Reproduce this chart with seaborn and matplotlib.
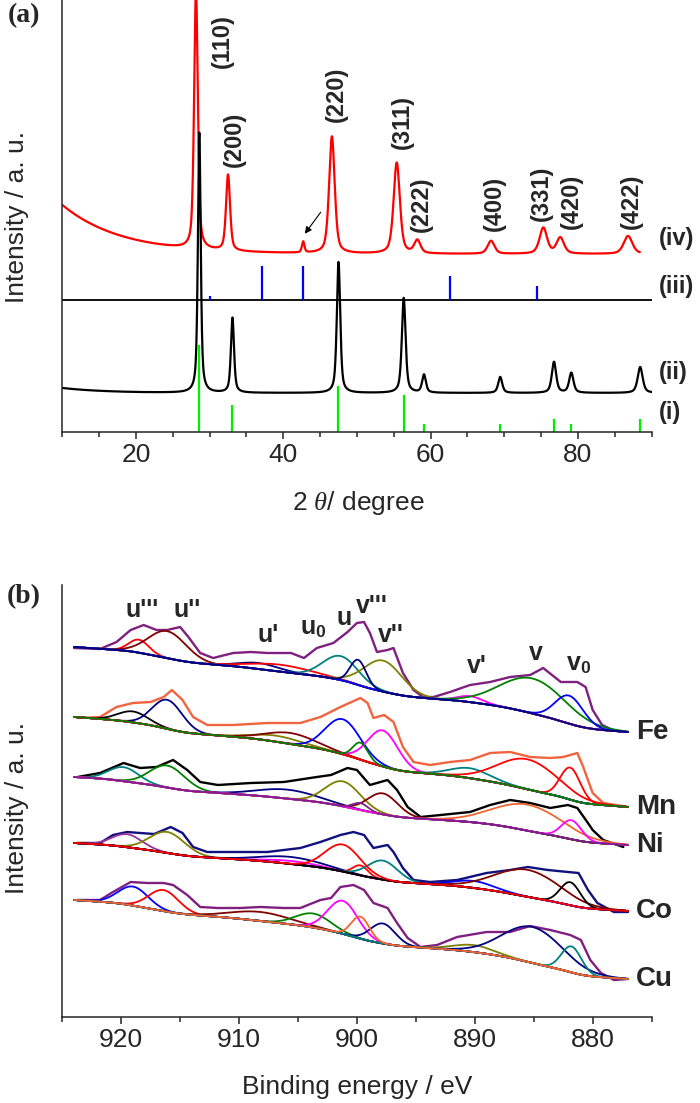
import numpy as np
import pandas as pd
import matplotlib
matplotlib.use("Agg")
import matplotlib.pyplot as plt
import seaborn as sns

sns.set_style("ticks")
plt.rcParams.update({
    'font.family': ['Liberation Sans', 'DejaVu Sans'],
    'mathtext.fontset': 'custom',
    'mathtext.rm': 'Liberation Sans',
    'mathtext.bf': 'Liberation Sans:bold',
    'mathtext.it': 'Liberation Serif:italic',
    'axes.linewidth': 1.1,
    'xtick.major.width': 1.1,
    'xtick.minor.width': 1.1,
})

# ---------------- (a) XRD ----------------
# reference sticks (i) and (iii)
ref_pos = [28.55, 33.08, 47.48, 56.34, 59.09, 69.42, 76.70, 79.07, 88.41]
ref_int = [87, 27, 46, 37, 8, 8, 13, 8, 13]
imp_pos = [30.0, 37.1, 42.7, 62.6, 74.5]
imp_int = [4, 34, 34, 24, 14]
imp_base = 132

# pattern (ii)
ii_pos = [28.6, 33.1, 47.5, 56.35, 59.1, 69.45, 76.75, 79.1, 88.45]
ii_amp = [260, 75, 131, 95, 18, 16, 31, 20, 26]
ii_fwhm = [0.45, 0.5, 0.55, 0.6, 0.6, 0.65, 0.7, 0.7, 0.8]
ii_base, ii_rise = 39, 5

# pattern (iv)
iv_pos = [28.15, 32.5, 42.7, 46.6, 55.4, 58.2, 68.2, 75.3, 77.6, 86.8]
iv_amp = [258, 76, 11, 117, 91, 13, 13, 26, 16, 18]
iv_fwhm = [0.6, 0.65, 0.4, 0.9, 1.0, 1.0, 1.1, 1.2, 1.2, 1.4]
iv_base, iv_rise = 178, 49

hkl_text = ["(110)", "(200)", "(220)", "(311)", "(222)", "(400)", "(331)", "(420)", "(422)"]
hkl_x = [31.75, 33.3, 47.25, 56.1, 58.7, 68.6, 75.0, 79.1, 87.3]
hkl_y = [391, 293, 338, 310, 228, 229, 239, 231, 231]

trace_names = ["(iv)", "(iii)", "(ii)", "(i)"]
trace_y = [194, 146, 60, 20]

# ---------------- (b) XPS Ce 3d ----------------
fe_be = [924.0, 921.8, 920.4, 919.2, 918.1, 917.0, 916.1, 915.0, 914.3, 913.3, 912.2, 910.5, 909.0,
         907.6, 905.6, 904.5, 903.4, 902.0, 900.8, 900.0, 899.4, 898.9, 898.3, 897.4, 896.9, 896.1,
         895.2, 894.4, 893.5, 892.1, 890.4, 888.7, 887.0, 885.3, 884.2, 882.7, 881.3, 880.6, 880.0,
         879.2, 878.3, 877.4]
fe_raw = [369, 368, 375, 387, 392, 387, 387, 390, 380, 364, 359, 364, 365,
          364, 364, 359, 369, 374, 385, 394, 395, 384, 365, 367, 369, 344,
          327, 320, 320, 325, 332, 335, 340, 342, 349, 335, 335, 330, 307,
          292, 287, 285]
mn_be = [923.7, 921.8, 920.4, 919.0, 917.5, 916.4, 915.7, 914.8, 913.9, 912.7, 910.5, 907.6, 904.8,
         903.1, 901.4, 899.7, 899.1, 898.6, 897.7, 896.9, 896.1, 895.2, 893.8, 892.1, 890.4, 888.7,
         887.0, 885.3, 883.6, 882.5, 881.3, 880.8, 880.0, 879.1, 877.0]
mn_raw = [299, 300, 310, 314, 315, 320, 327, 317, 300, 292, 292, 294, 294,
          300, 310, 319, 314, 299, 302, 295, 270, 255, 252, 255, 257, 264,
          265, 260, 259, 260, 264, 250, 224, 214, 210]
ni_be = [923.7, 921.8, 919.8, 918.4, 917.0, 915.6, 914.4, 913.3, 911.8, 909.0, 906.2, 903.4, 902.2,
         900.8, 900.0, 898.9, 897.4, 896.6, 895.7, 894.6, 892.9, 890.4, 888.7, 887.0, 885.3, 883.6,
         882.1, 881.3, 880.4, 880.0, 879.1, 877.4]
ni_raw = [240, 244, 254, 249, 250, 257, 247, 235, 232, 234, 235, 240, 242,
          249, 247, 232, 237, 227, 210, 200, 202, 205, 212, 217, 214, 209,
          212, 209, 194, 187, 177, 170]
co_be = [923.7, 921.8, 920.7, 919.5, 918.4, 917.2, 915.8, 914.8, 913.9, 912.7, 910.5, 907.6, 904.8,
         903.1, 901.4, 900.3, 899.4, 898.6, 897.4, 896.9, 896.1, 895.2, 893.8, 891.5, 889.0, 887.0,
         885.5, 883.8, 882.1, 881.2, 880.4, 879.6, 878.2, 877.0]
co_raw = [174, 174, 182, 185, 184, 183, 190, 184, 170, 165, 165, 165, 169,
          175, 182, 185, 182, 169, 172, 165, 149, 137, 135, 137, 144, 147,
          150, 147, 145, 144, 127, 114, 105, 105]
cu_be = [923.7, 921.8, 920.7, 919.2, 917.8, 916.4, 915.6, 914.4, 913.3, 911.8, 909.9, 908.2, 906.2,
         904.8, 903.1, 902.2, 901.4, 900.3, 899.4, 898.6, 897.4, 896.6, 895.7, 894.6, 893.2, 891.5,
         889.0, 887.0, 885.3, 883.6, 881.9, 881.0, 880.2, 879.3, 878.2, 877.0]
cu_raw = [117, 117, 125, 135, 134, 134, 132, 122, 110, 109, 109, 110, 109,
          109, 117, 119, 130, 132, 127, 114, 109, 94, 79, 70, 72, 80,
          85, 85, 91, 87, 82, 77, 57, 44, 37, 38]

# fitted components: (centre eV, height, FWHM eV, colour); last one drawn on top
fe_fit = [(918.5, 13, 2.0, 'red'), (916.1, 27, 3.8, '#800000'), (908.3, 6, 4.0, '#000080'),
          (906.5, 7, 6.0, 'red'), (901.4, 24, 3.5, '#008080'), (897.8, 31, 3.8, '#808000'),
          (890.4, 6, 2.5, '#FF00FF'), (885.1, 35, 6.5, '#008000'), (882.0, 28, 2.8, '#0000FF'),
          (899.9, 25, 1.6, '#000080')]
mn_fit = [(919.0, 11, 3.0, 'black'), (916.1, 29, 3.0, '#000080'), (906.8, 6, 5.0, '#808000'),
          (905.6, 11, 5.0, '#800000'), (901.2, 35, 3.5, '#0000FF'), (897.8, 36, 3.0, '#FF00FF'),
          (890.4, 10, 4.0, '#008080'), (885.5, 30, 6.0, 'red'), (881.9, 32, 2.0, 'red'),
          (899.7, 17, 1.5, '#008000')]
ni_fit = [(919.8, 14, 3.0, '#008080'), (916.1, 22, 3.5, '#008000'), (905.9, 9, 6.0, '#000080'),
          (901.2, 25, 3.5, '#808000'), (897.8, 21, 3.0, '#800000'), (885.5, 26, 7.0, '#F26430'),
          (881.8, 19, 2.0, '#FF00FF'), (899.7, 7, 1.5, '#7F1F8F')]
co_fit = [(919.5, 13, 3.0, '#993399'), (916.1, 21, 3.5, '#808000'), (905.5, 3, 5.0, '#FF00FF'),
          (905.6, 7, 6.0, '#000080'), (899.7, 10, 1.5, 'red'), (897.8, 19, 3.0, '#008080'),
          (890.1, 7, 4.0, '#0000FF'), (885.5, 27, 6.5, '#800000'), (881.9, 23, 2.0, 'black'),
          (901.2, 27, 3.5, 'red')]
cu_fit = [(919.0, 19, 3.0, '#0000FF'), (916.4, 21, 3.0, 'red'), (908.2, 9, 6.0, '#800000'),
          (903.7, 14, 3.5, '#008000'), (901.2, 33, 3.0, '#FF00FF'), (897.8, 20, 2.5, '#000080'),
          (890.1, 7, 4.0, '#808000'), (885.1, 36, 6.0, '#000080'), (881.8, 26, 2.0, '#008080'),
          (899.7, 22, 1.8, '#F26430')]

spectra = [
    ("Fe", fe_be, fe_raw, '#7F1F7F', fe_fit, 370, 285),
    ("Mn", mn_be, mn_raw, '#F26440', mn_fit, 300, 210),
    ("Ni", ni_be, ni_raw, 'black', ni_fit, 240, 172),
    ("Co", co_be, co_raw, '#10107F', co_fit, 174, 106),
    ("Cu", cu_be, cu_raw, '#7F1F7F', cu_fit, 117, 38),
]

uv_text = ["u'''", "u''", "u'", "u$_\\mathbf{0}$", "u", "v'''", "v''", "v'", "v", "v$_\\mathbf{0}$"]
uv_x = [918.2, 914.4, 907.5, 903.7, 901.1, 898.7, 897.1, 889.8, 884.8, 881.2]
uv_y = [400, 400, 375, 383, 392, 404, 375, 344, 357, 347]


def pvoigt(x, c, a, w, eta):
    lor = 1.0 / (1.0 + ((x - c) / (w / 2)) ** 2)
    gau = np.exp(-4 * np.log(2) * ((x - c) / w) ** 2)
    return a * (eta * lor + (1 - eta) * gau)


def gauss(x, c, a, w):
    return a * np.exp(-4 * np.log(2) * ((x - c) / w) ** 2)


fig = plt.figure(figsize=(7, 11.03), dpi=100)
ax_a = fig.add_axes([62.3 / 700, 1 - 432 / 1103, 589.3 / 700, 432 / 1103])
ax_b = fig.add_axes([62.3 / 700, 1 - 1017 / 1103, 589.3 / 700, 432 / 1103])

# ---- panel (a)
tt = np.arange(10, 90.001, 0.02)
y_ii = ii_base + ii_rise * np.exp(-(tt - 10) / 6)
for c, a, w in zip(ii_pos, ii_amp, ii_fwhm):
    y_ii = y_ii + pvoigt(tt, c, a, w, 0.6)
tt_iv = tt[tt <= 88.4]
y_iv = iv_base + iv_rise * np.exp(-(tt_iv - 10) / 8)
for c, a, w in zip(iv_pos, iv_amp, iv_fwhm):
    y_iv = y_iv + pvoigt(tt_iv, c, a, w, 0.5)

xrd = pd.concat([
    pd.DataFrame({"two_theta": tt_iv, "I": y_iv, "trace": "iv"}),
    pd.DataFrame({"two_theta": tt, "I": y_ii, "trace": "ii"}),
])
sns.lineplot(data=xrd, x="two_theta", y="I", hue="trace", palette={"iv": "red", "ii": "black"},
             estimator=None, sort=False, lw=1.6, legend=False, ax=ax_a)
ax_a.axhline(imp_base, color='black', lw=1.3)
ax_a.vlines(ref_pos, 0, ref_int, color='#00EE00', lw=1.6)
ax_a.vlines(imp_pos, imp_base, [imp_base + h for h in imp_int], color='#0000FF', lw=1.6)

for t, x, y in zip(hkl_text, hkl_x, hkl_y):
    ax_a.text(x, y, t, rotation=90, ha='center', va='center', fontsize=17, fontweight='bold')
for t, y in zip(trace_names, trace_y):
    ax_a.text(91.0, y, t, ha='left', va='center', fontsize=17, fontweight='bold', clip_on=False)
ax_a.annotate("", xy=(42.7, 196), xytext=(45.3, 222),
              arrowprops=dict(arrowstyle='-|>', color='black', lw=0.8, mutation_scale=10))

ax_a.set_xlim(10, 90)
ax_a.set_ylim(0, 432)
ax_a.set_xticks([20, 40, 60, 80])
ax_a.set_xticks(np.arange(10, 91, 5), minor=True)
ax_a.set_xlabel("2 $\\it{\\theta}$/ degree", fontsize=19)
ax_a.xaxis.set_label_coords(0.502, -0.164)
ax_a.xaxis.label.set_va('center')

# ---- panel (b)
grid = np.arange(877.0, 924.001, 0.05)
w_lin = 0.45
for name, be, raw, raw_col, fit, hi, lo in spectra:
    peaks = [gauss(grid, c, a, w) for c, a, w, col in fit]
    total = np.sum(peaks, axis=0)
    cum = np.cumsum(total)
    cum = cum / cum[-1]
    lin = (grid - grid[0]) / (grid[-1] - grid[0])
    bg = lo + (hi - lo) * (w_lin * lin + (1 - w_lin) * cum)
    sns.lineplot(x=be, y=raw, color=raw_col, lw=1.7, estimator=None, sort=False, ax=ax_b)
    for p, (c, a, w, col) in zip(peaks, fit):
        sns.lineplot(x=grid, y=bg + p, color=col, lw=1.3, estimator=None, sort=False, ax=ax_b)
    ax_b.text(876.3, lo, name, ha='left', va='center', fontsize=20, fontweight='bold', clip_on=False)

for t, x, y in zip(uv_text, uv_x, uv_y):
    ax_b.text(x, y, t, ha='center', va='baseline', fontsize=18, fontweight='bold')

ax_b.set_xlim(925, 875)
ax_b.set_ylim(0, 432)
ax_b.set_xticks([920, 910, 900, 890, 880])
ax_b.set_xticks(np.arange(925, 874, -5), minor=True)
ax_b.set_xlabel("Binding energy / eV", fontsize=19)
ax_b.xaxis.set_label_coords(0.5, -0.162)
ax_b.xaxis.label.set_va('center')

for ax, ly in [(ax_a, 217), (ax_b, 808)]:
    ax.set_yticks([])
    ax.set_ylabel("")
    sns.despine(ax=ax)
    ax.tick_params(axis='x', which='major', direction='out', length=5, labelsize=19, pad=3)
    ax.tick_params(axis='x', which='minor', direction='out', length=3.5)
    fig.text(17 / 700, 1 - ly / 1103, "Intensity / a. u.", rotation=90, ha='center', va='center',
             fontsize=19)

fig.text(24 / 700, 1 - 16 / 1103, "(a)", ha='center', va='center', fontsize=20, fontweight='bold',
         family='Liberation Serif')
fig.text(24 / 700, 1 - 597 / 1103, "(b)", ha='center', va='center', fontsize=20, fontweight='bold',
         family='Liberation Serif')

fig.savefig("out.png", dpi=100)
